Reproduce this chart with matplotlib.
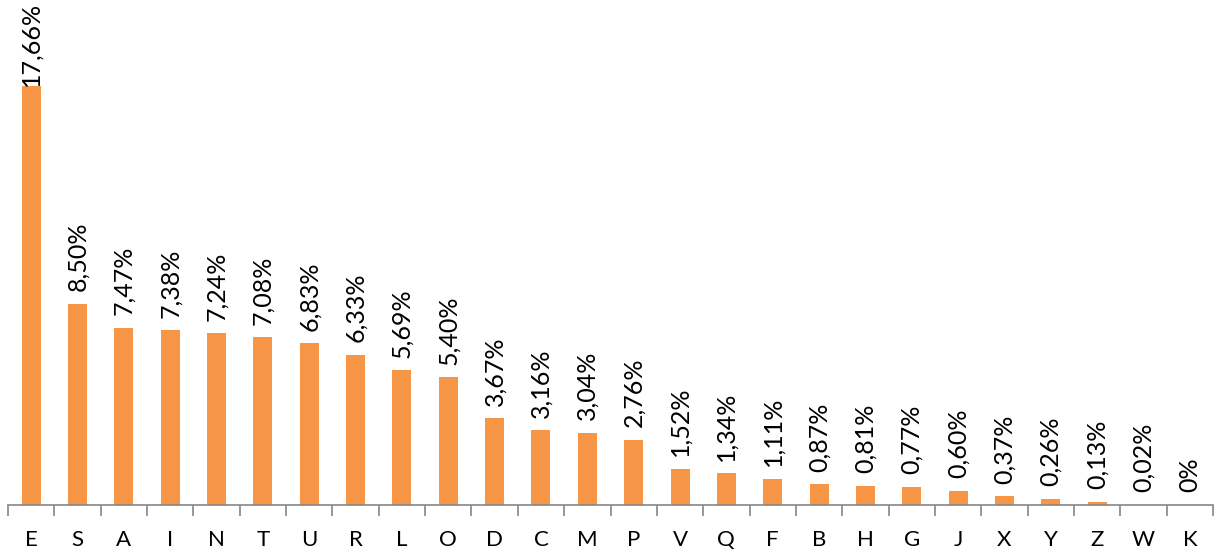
import matplotlib
matplotlib.use("Agg")
from matplotlib import pyplot as plt
import numpy as np

plt.rcParams['font.family'] = ['Lato', 'DejaVu Sans']

letters = ['E', 'S', 'A', 'I', 'N', 'T', 'U', 'R', 'L', 'O', 'D', 'C', 'M',
           'P', 'V', 'Q', 'F', 'B', 'H', 'G', 'J', 'X', 'Y', 'Z', 'W', 'K']
freq = [17.66, 8.50, 7.47, 7.38, 7.24, 7.08, 6.83, 6.33, 5.69, 5.40, 3.67, 3.16, 3.04,
        2.76, 1.52, 1.34, 1.11, 0.87, 0.81, 0.77, 0.60, 0.37, 0.26, 0.13, 0.02, 0]

def pct(v):
    if v == 0:
        return "0%"
    return ("%.2f" % v).replace('.', ',') + "%"

fig = plt.figure(figsize=(12.16, 5.52), dpi=100)
ax = fig.add_axes([8/1216, 47/552, 1205/1216, 505/552])

x = np.arange(len(letters))
ax.bar(x, freq, width=0.41, color='#F79646', zorder=2)

off = 9
labels = []
for xi, v in zip(x, freq):
    t = ax.annotate(pct(v), (xi, v), xytext=(0, off), textcoords='offset points',
                    rotation=90, ha='center', va='bottom', fontsize=18,
                    annotation_clip=False)
    labels.append(t)

ax.set_xlim(-0.5, len(letters) - 0.5)
ax.set_ylim(0, 505/23.7)

for s in ['top', 'right', 'left']:
    ax.spines[s].set_visible(False)
ax.spines['bottom'].set_color('#868686')
ax.spines['bottom'].set_linewidth(1.2)
ax.set_yticks([])

# tick marks sit between the categories, labels sit under the bars
ax.set_xticks(np.arange(-0.5, len(letters)), minor=False)
ax.set_xticklabels([])
ax.tick_params(axis='x', which='major', direction='out', length=8, width=1.2, color='#868686')
ax.set_xticks(x, minor=True)
ax.set_xticklabels(letters, minor=True, fontsize=16)
ax.tick_params(axis='x', which='minor', length=0, pad=18)

# a label running off the top gets pulled back down against its bar
fig.canvas.draw()
r = fig.canvas.get_renderer()
for t in labels:
    bb = t.get_window_extent(r)
    if bb.y1 > fig.bbox.height - 2:
        shift = bb.y1 - (fig.bbox.height - 2)
        t.set_position((0, off - shift * 72 / fig.dpi))

fig.savefig("out.png", dpi=100)
